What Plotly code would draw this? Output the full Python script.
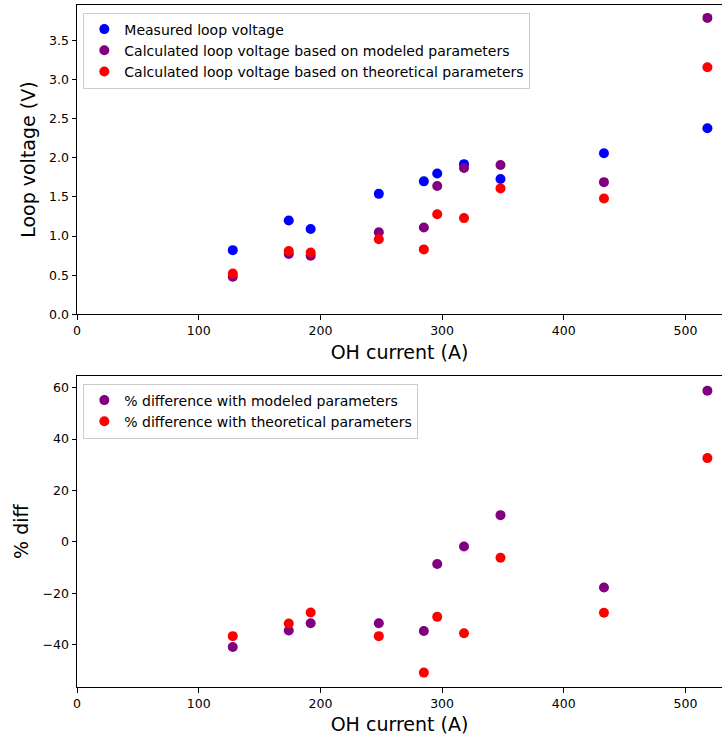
import plotly.graph_objects as go
from plotly.subplots import make_subplots

# OH coil current for each shot (A)
oh_current = [128, 174, 192, 248, 285, 296, 318, 348, 433, 518]

# Loop voltage (V)
v_measured = [0.82, 1.20, 1.09, 1.54, 1.70, 1.80, 1.92, 1.73, 2.06, 2.38]
v_modeled = [0.48, 0.77, 0.75, 1.05, 1.11, 1.64, 1.87, 1.91, 1.69, 3.79]
v_theoretical = [0.52, 0.81, 0.79, 0.96, 0.83, 1.28, 1.23, 1.61, 1.48, 3.16]

# Percent difference from measured loop voltage
pct_modeled = [-40.9, -34.5, -31.7, -31.7, -34.7, -8.6, -1.8, 10.4, -17.8, 58.8]
pct_theoretical = [-36.7, -31.8, -27.5, -36.7, -50.9, -29.2, -35.6, -6.2, -27.6, 32.6]

x_ticks = [0, 100, 200, 300, 400, 500]
v_ticks = [0.0, 0.5, 1.0, 1.5, 2.0, 2.5, 3.0, 3.5]
pct_ticks = [-40, -20, 0, 20, 40, 60]

BLUE = "#0000ff"
PURPLE = "#800080"
RED = "#ff0000"
FONT = "DejaVu Sans"

fig = make_subplots(rows=2, cols=1)

def dots(x, y, color, name, legend):
    return go.Scatter(
        x=x, y=y, mode="markers", name=name, legend=legend,
        marker=dict(color=color, size=10, line=dict(width=0)),
    )

fig.add_trace(dots(oh_current, v_measured, BLUE, "Measured loop voltage", "legend"), row=1, col=1)
fig.add_trace(dots(oh_current, v_modeled, PURPLE,
                   "Calculated loop voltage based on modeled parameters", "legend"), row=1, col=1)
fig.add_trace(dots(oh_current, v_theoretical, RED,
                   "Calculated loop voltage based on theoretical parameters", "legend"), row=1, col=1)

fig.add_trace(dots(oh_current, pct_modeled, PURPLE,
                   "% difference with modeled parameters", "legend2"), row=2, col=1)
fig.add_trace(dots(oh_current, pct_theoretical, RED,
                   "% difference with theoretical parameters", "legend2"), row=2, col=1)

tick_font = dict(family=FONT, size=12.5, color="#000000")
title_font = dict(family=FONT, size=19, color="#000000")

xcommon = dict(
    range=[0, 530], tickvals=x_ticks, showgrid=False, zeroline=False,
    showline=True, linecolor="#000000", linewidth=1, mirror=True,
    ticks="outside", ticklen=4.5, tickwidth=1, tickcolor="#000000",
    tickfont=tick_font,
    title=dict(text="OH current (A)", font=title_font, standoff=8),
)
ycommon = dict(
    showgrid=False, zeroline=False,
    showline=True, linecolor="#000000", linewidth=1, mirror=False,
    ticks="outside", ticklen=4.5, tickwidth=1, tickcolor="#000000",
    tickfont=tick_font,
)

fig.update_xaxes(**xcommon)
fig.update_yaxes(**ycommon)
fig.update_layout(
    yaxis=dict(domain=[0.5465, 1.0], range=[0, 3.955], tickvals=v_ticks, tickformat=".1f",
               title=dict(text="Loop voltage (V)", font=title_font, standoff=8)),
    yaxis2=dict(domain=[0.0, 0.4556], range=[-56.5, 64.45], tickvals=pct_ticks,
                title=dict(text="% diff", font=title_font, standoff=8)),
)

legend_style = dict(
    bgcolor="rgba(255,255,255,0.8)", bordercolor="#cccccc", borderwidth=1,
    font=dict(family=FONT, size=14, color="#000000"),
    xanchor="left", yanchor="top",
)
fig.update_layout(
    width=722, height=740,
    margin=dict(l=77, r=0, t=5, b=53),
    paper_bgcolor="white", plot_bgcolor="white",
    showlegend=True,
    legend=dict(x=0.0098, y=0.989, **legend_style),
    legend2=dict(x=0.0098, y=0.445, **legend_style),
)

fig.write_html("out.html")
